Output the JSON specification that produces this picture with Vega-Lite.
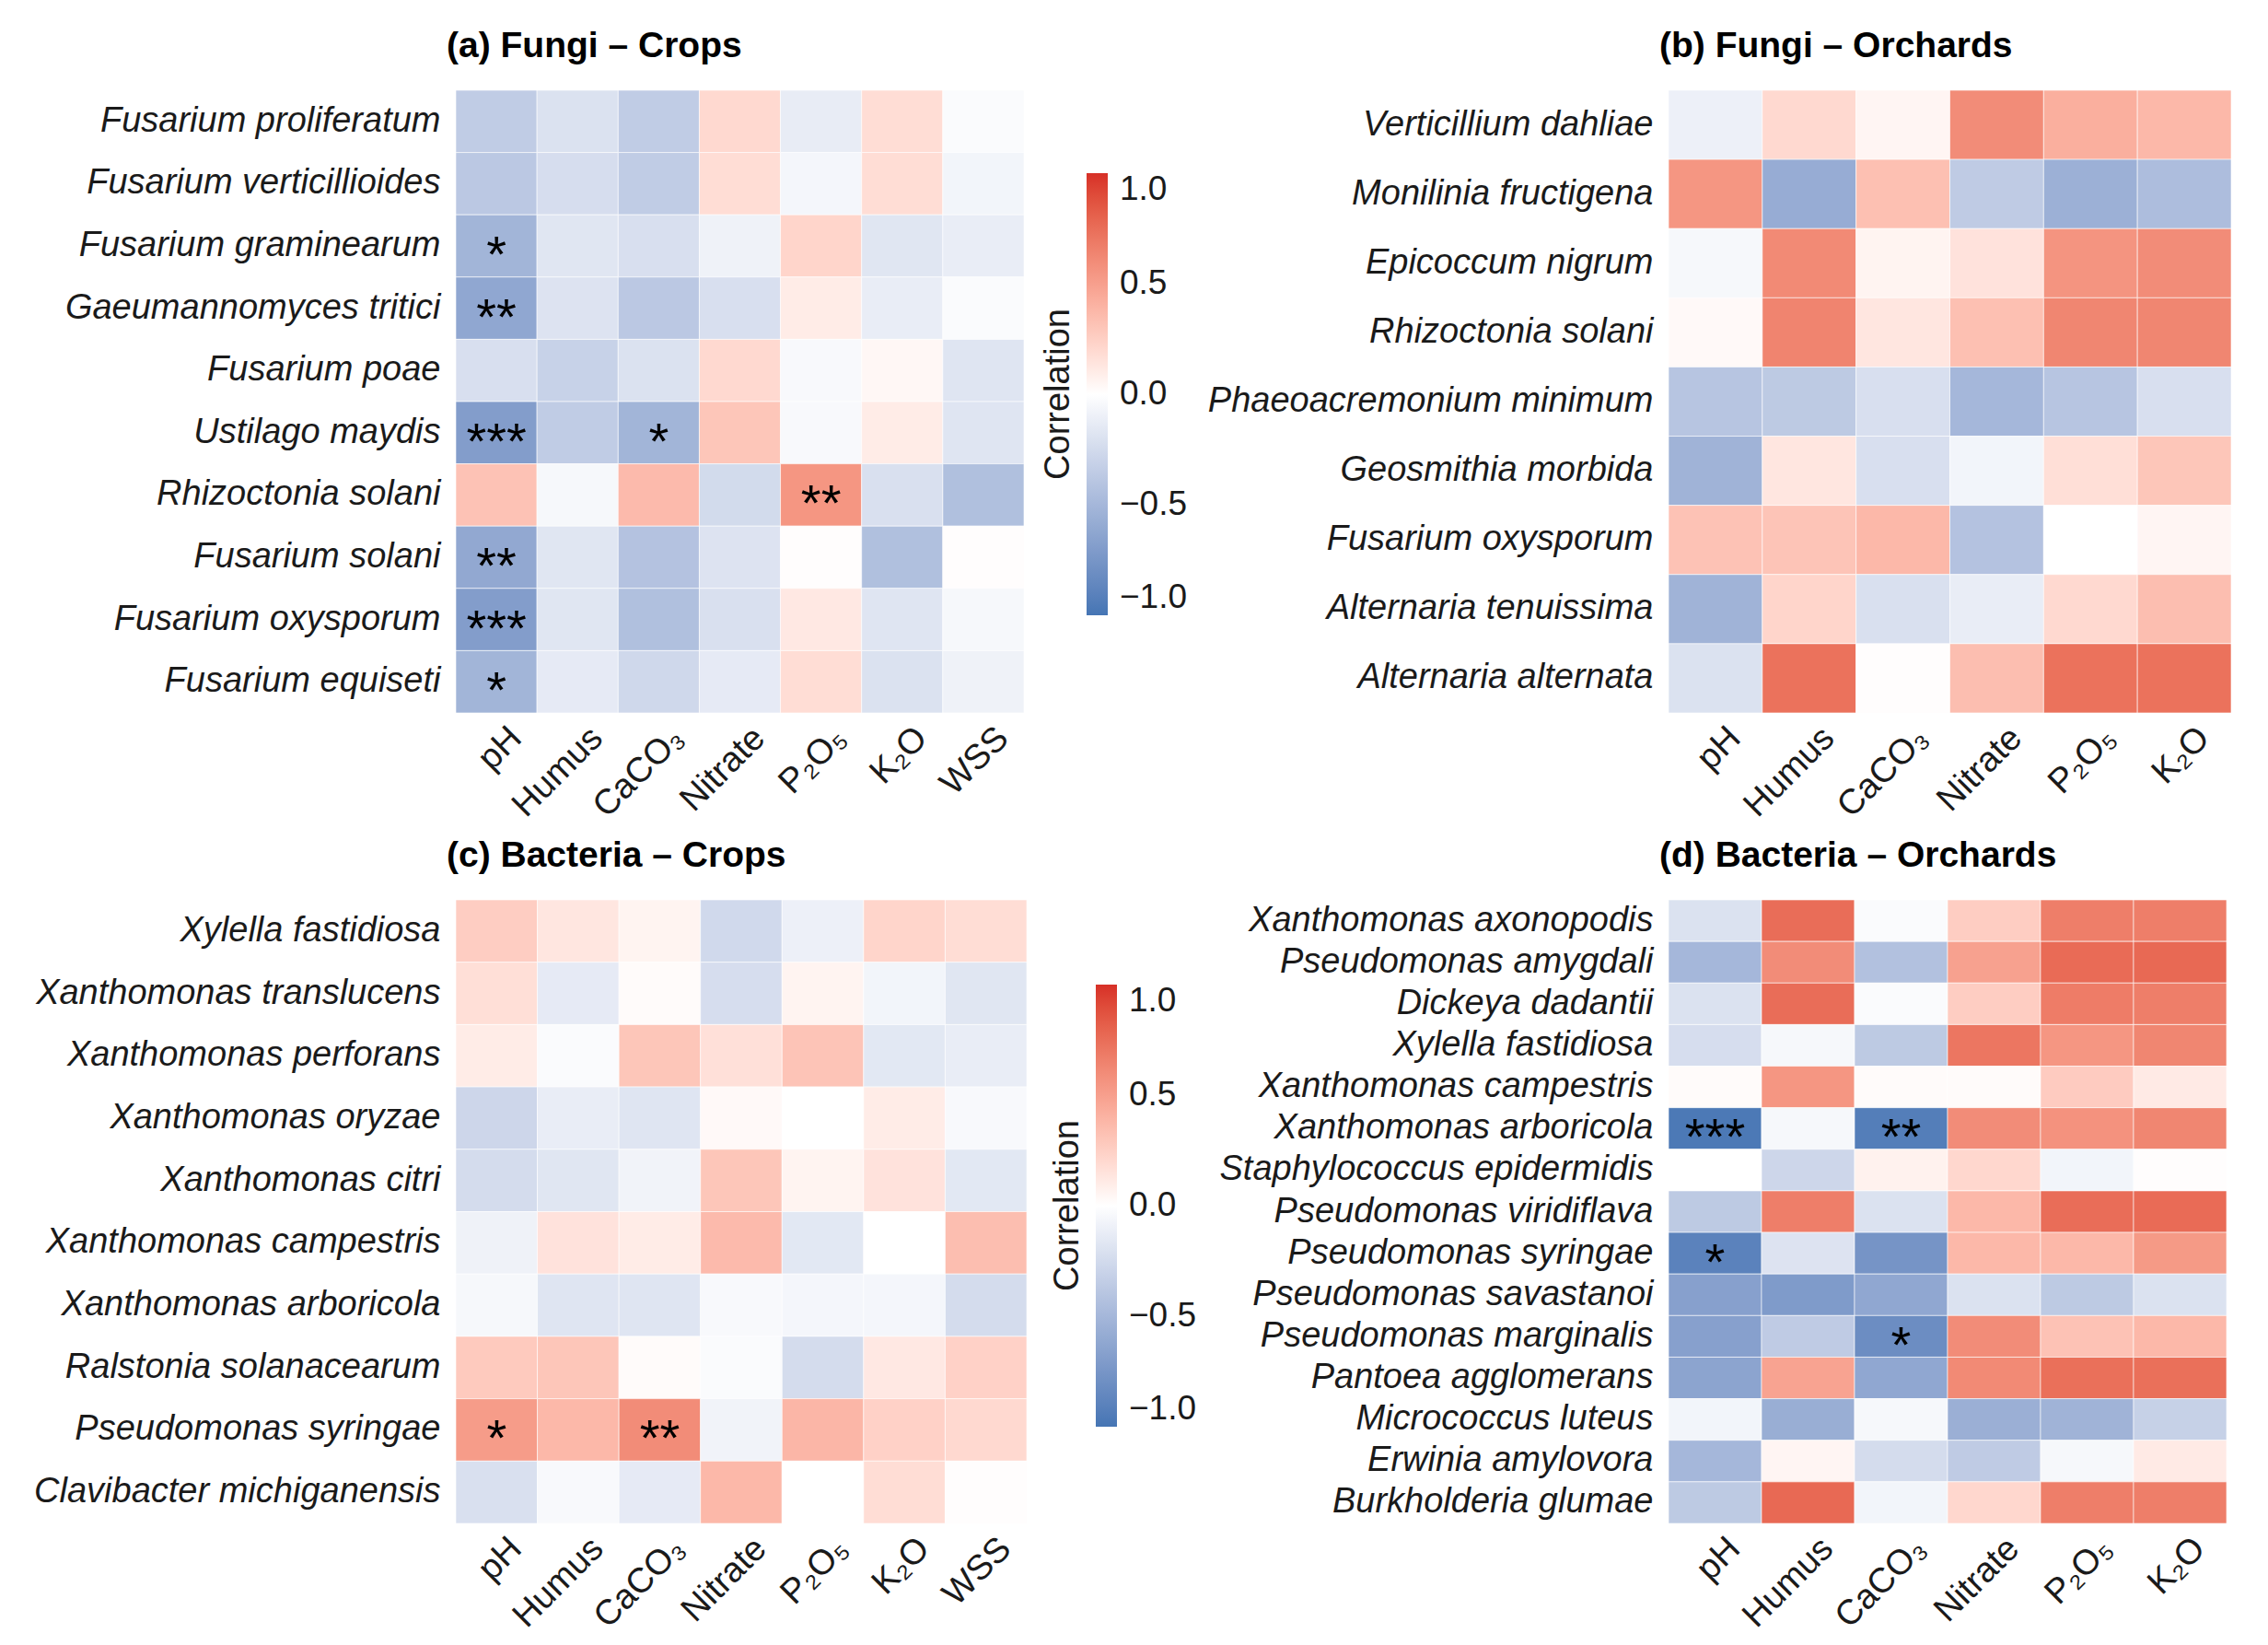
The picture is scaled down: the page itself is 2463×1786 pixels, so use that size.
{
  "$schema": "https://vega.github.io/schema/vega-lite/v6.json",
  "background": "white",
  "padding": {"left": 36, "top": 30, "right": 0, "bottom": 0},
  "config": {
    "font": "Liberation Sans",
    "view": {"stroke": null},
    "axis": {"domain": false, "ticks": false, "grid": false, "labelFontSize": 38, "labelColor": "#1a1a1a", "labelFont": "Liberation Sans"},
    "axisX": {"labelAngle": -45, "labelPadding": 8, "labelOffset": 8},
    "axisY": {"labelFontStyle": "italic", "labelPadding": 17, "labelLimit": 700},
    "title": {"fontSize": 39, "fontWeight": "bold", "anchor": "start", "frame": "group", "color": "#000000", "offset": 28, "dx": -10, "font": "Liberation Sans"},
    "legend": {"titleFontSize": 38, "titleFontWeight": "normal", "labelFontSize": 37, "labelColor": "#1a1a1a", "titleColor": "#1a1a1a", "titleFont": "Liberation Sans", "labelFont": "Liberation Sans", "titleLimit": 600}
  },
  "datasets": {
    "a": [
      {"sp":"Fusarium proliferatum","v":"pH","r":-0.35},{"sp":"Fusarium proliferatum","v":"Humus","r":-0.2},{"sp":"Fusarium proliferatum","v":"CaCO₃","r":-0.35},{"sp":"Fusarium proliferatum","v":"Nitrate","r":0.2},{"sp":"Fusarium proliferatum","v":"P₂O₅","r":-0.13},{"sp":"Fusarium proliferatum","v":"K₂O","r":0.18},{"sp":"Fusarium proliferatum","v":"WSS","r":-0.03},
      {"sp":"Fusarium verticillioides","v":"pH","r":-0.38},{"sp":"Fusarium verticillioides","v":"Humus","r":-0.23},{"sp":"Fusarium verticillioides","v":"CaCO₃","r":-0.35},{"sp":"Fusarium verticillioides","v":"Nitrate","r":0.18},{"sp":"Fusarium verticillioides","v":"P₂O₅","r":-0.06},{"sp":"Fusarium verticillioides","v":"K₂O","r":0.18},{"sp":"Fusarium verticillioides","v":"WSS","r":-0.07},
      {"sp":"Fusarium graminearum","v":"pH","r":-0.52,"s":"*"},{"sp":"Fusarium graminearum","v":"Humus","r":-0.17},{"sp":"Fusarium graminearum","v":"CaCO₃","r":-0.22},{"sp":"Fusarium graminearum","v":"Nitrate","r":-0.09},{"sp":"Fusarium graminearum","v":"P₂O₅","r":0.22},{"sp":"Fusarium graminearum","v":"K₂O","r":-0.17},{"sp":"Fusarium graminearum","v":"WSS","r":-0.12},
      {"sp":"Gaeumannomyces tritici","v":"pH","r":-0.62,"s":"**"},{"sp":"Gaeumannomyces tritici","v":"Humus","r":-0.19},{"sp":"Gaeumannomyces tritici","v":"CaCO₃","r":-0.38},{"sp":"Gaeumannomyces tritici","v":"Nitrate","r":-0.22},{"sp":"Gaeumannomyces tritici","v":"P₂O₅","r":0.1},{"sp":"Gaeumannomyces tritici","v":"K₂O","r":-0.12},{"sp":"Gaeumannomyces tritici","v":"WSS","r":-0.03},
      {"sp":"Fusarium poae","v":"pH","r":-0.22},{"sp":"Fusarium poae","v":"Humus","r":-0.31},{"sp":"Fusarium poae","v":"CaCO₃","r":-0.2},{"sp":"Fusarium poae","v":"Nitrate","r":0.2},{"sp":"Fusarium poae","v":"P₂O₅","r":-0.04},{"sp":"Fusarium poae","v":"K₂O","r":0.04},{"sp":"Fusarium poae","v":"WSS","r":-0.18},
      {"sp":"Ustilago maydis","v":"pH","r":-0.69,"s":"***"},{"sp":"Ustilago maydis","v":"Humus","r":-0.35},{"sp":"Ustilago maydis","v":"CaCO₃","r":-0.52,"s":"*"},{"sp":"Ustilago maydis","v":"Nitrate","r":0.3},{"sp":"Ustilago maydis","v":"P₂O₅","r":-0.04},{"sp":"Ustilago maydis","v":"K₂O","r":0.1},{"sp":"Ustilago maydis","v":"WSS","r":-0.18},
      {"sp":"Rhizoctonia solani","v":"pH","r":0.32},{"sp":"Rhizoctonia solani","v":"Humus","r":-0.05},{"sp":"Rhizoctonia solani","v":"CaCO₃","r":0.36},{"sp":"Rhizoctonia solani","v":"Nitrate","r":-0.25},{"sp":"Rhizoctonia solani","v":"P₂O₅","r":0.55,"s":"**"},{"sp":"Rhizoctonia solani","v":"K₂O","r":-0.21},{"sp":"Rhizoctonia solani","v":"WSS","r":-0.44},
      {"sp":"Fusarium solani","v":"pH","r":-0.61,"s":"**"},{"sp":"Fusarium solani","v":"Humus","r":-0.17},{"sp":"Fusarium solani","v":"CaCO₃","r":-0.42},{"sp":"Fusarium solani","v":"Nitrate","r":-0.19},{"sp":"Fusarium solani","v":"P₂O₅","r":0.01},{"sp":"Fusarium solani","v":"K₂O","r":-0.44},{"sp":"Fusarium solani","v":"WSS","r":0.01},
      {"sp":"Fusarium oxysporum","v":"pH","r":-0.69,"s":"***"},{"sp":"Fusarium oxysporum","v":"Humus","r":-0.17},{"sp":"Fusarium oxysporum","v":"CaCO₃","r":-0.44},{"sp":"Fusarium oxysporum","v":"Nitrate","r":-0.21},{"sp":"Fusarium oxysporum","v":"P₂O₅","r":0.12},{"sp":"Fusarium oxysporum","v":"K₂O","r":-0.18},{"sp":"Fusarium oxysporum","v":"WSS","r":-0.05},
      {"sp":"Fusarium equiseti","v":"pH","r":-0.52,"s":"*"},{"sp":"Fusarium equiseti","v":"Humus","r":-0.14},{"sp":"Fusarium equiseti","v":"CaCO₃","r":-0.27},{"sp":"Fusarium equiseti","v":"Nitrate","r":-0.14},{"sp":"Fusarium equiseti","v":"P₂O₅","r":0.18},{"sp":"Fusarium equiseti","v":"K₂O","r":-0.2},{"sp":"Fusarium equiseti","v":"WSS","r":-0.09}
    ],
    "b": [
      {"sp":"Verticillium dahliae","v":"pH","r":-0.1},{"sp":"Verticillium dahliae","v":"Humus","r":0.2},{"sp":"Verticillium dahliae","v":"CaCO₃","r":0.05},{"sp":"Verticillium dahliae","v":"Nitrate","r":0.6},{"sp":"Verticillium dahliae","v":"P₂O₅","r":0.42},{"sp":"Verticillium dahliae","v":"K₂O","r":0.37},
      {"sp":"Monilinia fructigena","v":"pH","r":0.55},{"sp":"Monilinia fructigena","v":"Humus","r":-0.58},{"sp":"Monilinia fructigena","v":"CaCO₃","r":0.33},{"sp":"Monilinia fructigena","v":"Nitrate","r":-0.36},{"sp":"Monilinia fructigena","v":"P₂O₅","r":-0.55},{"sp":"Monilinia fructigena","v":"K₂O","r":-0.46},
      {"sp":"Epicoccum nigrum","v":"pH","r":-0.05},{"sp":"Epicoccum nigrum","v":"Humus","r":0.61},{"sp":"Epicoccum nigrum","v":"CaCO₃","r":0.06},{"sp":"Epicoccum nigrum","v":"Nitrate","r":0.15},{"sp":"Epicoccum nigrum","v":"P₂O₅","r":0.56},{"sp":"Epicoccum nigrum","v":"K₂O","r":0.6},
      {"sp":"Rhizoctonia solani","v":"pH","r":0.03},{"sp":"Rhizoctonia solani","v":"Humus","r":0.64},{"sp":"Rhizoctonia solani","v":"CaCO₃","r":0.13},{"sp":"Rhizoctonia solani","v":"Nitrate","r":0.33},{"sp":"Rhizoctonia solani","v":"P₂O₅","r":0.63},{"sp":"Rhizoctonia solani","v":"K₂O","r":0.63},
      {"sp":"Phaeoacremonium minimum","v":"pH","r":-0.4},{"sp":"Phaeoacremonium minimum","v":"Humus","r":-0.37},{"sp":"Phaeoacremonium minimum","v":"CaCO₃","r":-0.22},{"sp":"Phaeoacremonium minimum","v":"Nitrate","r":-0.5},{"sp":"Phaeoacremonium minimum","v":"P₂O₅","r":-0.4},{"sp":"Phaeoacremonium minimum","v":"K₂O","r":-0.22},
      {"sp":"Geosmithia morbida","v":"pH","r":-0.53},{"sp":"Geosmithia morbida","v":"Humus","r":0.13},{"sp":"Geosmithia morbida","v":"CaCO₃","r":-0.22},{"sp":"Geosmithia morbida","v":"Nitrate","r":-0.07},{"sp":"Geosmithia morbida","v":"P₂O₅","r":0.17},{"sp":"Geosmithia morbida","v":"K₂O","r":0.3},
      {"sp":"Fusarium oxysporum","v":"pH","r":0.32},{"sp":"Fusarium oxysporum","v":"Humus","r":0.31},{"sp":"Fusarium oxysporum","v":"CaCO₃","r":0.37},{"sp":"Fusarium oxysporum","v":"Nitrate","r":-0.42},{"sp":"Fusarium oxysporum","v":"P₂O₅","r":0},{"sp":"Fusarium oxysporum","v":"K₂O","r":0.05},
      {"sp":"Alternaria tenuissima","v":"pH","r":-0.53},{"sp":"Alternaria tenuissima","v":"Humus","r":0.22},{"sp":"Alternaria tenuissima","v":"CaCO₃","r":-0.21},{"sp":"Alternaria tenuissima","v":"Nitrate","r":-0.12},{"sp":"Alternaria tenuissima","v":"P₂O₅","r":0.2},{"sp":"Alternaria tenuissima","v":"K₂O","r":0.34},
      {"sp":"Alternaria alternata","v":"pH","r":-0.2},{"sp":"Alternaria alternata","v":"Humus","r":0.73},{"sp":"Alternaria alternata","v":"CaCO₃","r":0.01},{"sp":"Alternaria alternata","v":"Nitrate","r":0.34},{"sp":"Alternaria alternata","v":"P₂O₅","r":0.73},{"sp":"Alternaria alternata","v":"K₂O","r":0.73}
    ],
    "c": [
      {"sp":"Xylella fastidiosa","v":"pH","r":0.26},{"sp":"Xylella fastidiosa","v":"Humus","r":0.13},{"sp":"Xylella fastidiosa","v":"CaCO₃","r":0.06},{"sp":"Xylella fastidiosa","v":"Nitrate","r":-0.26},{"sp":"Xylella fastidiosa","v":"P₂O₅","r":-0.1},{"sp":"Xylella fastidiosa","v":"K₂O","r":0.22},{"sp":"Xylella fastidiosa","v":"WSS","r":0.18},
      {"sp":"Xanthomonas translucens","v":"pH","r":0.17},{"sp":"Xanthomonas translucens","v":"Humus","r":-0.14},{"sp":"Xanthomonas translucens","v":"CaCO₃","r":0.02},{"sp":"Xanthomonas translucens","v":"Nitrate","r":-0.23},{"sp":"Xanthomonas translucens","v":"P₂O₅","r":0.06},{"sp":"Xanthomonas translucens","v":"K₂O","r":-0.07},{"sp":"Xanthomonas translucens","v":"WSS","r":-0.17},
      {"sp":"Xanthomonas perforans","v":"pH","r":0.1},{"sp":"Xanthomonas perforans","v":"Humus","r":-0.03},{"sp":"Xanthomonas perforans","v":"CaCO₃","r":0.3},{"sp":"Xanthomonas perforans","v":"Nitrate","r":0.16},{"sp":"Xanthomonas perforans","v":"P₂O₅","r":0.31},{"sp":"Xanthomonas perforans","v":"K₂O","r":-0.16},{"sp":"Xanthomonas perforans","v":"WSS","r":-0.12},
      {"sp":"Xanthomonas oryzae","v":"pH","r":-0.28},{"sp":"Xanthomonas oryzae","v":"Humus","r":-0.12},{"sp":"Xanthomonas oryzae","v":"CaCO₃","r":-0.18},{"sp":"Xanthomonas oryzae","v":"Nitrate","r":0.03},{"sp":"Xanthomonas oryzae","v":"P₂O₅","r":0},{"sp":"Xanthomonas oryzae","v":"K₂O","r":0.1},{"sp":"Xanthomonas oryzae","v":"WSS","r":-0.04},
      {"sp":"Xanthomonas citri","v":"pH","r":-0.24},{"sp":"Xanthomonas citri","v":"Humus","r":-0.17},{"sp":"Xanthomonas citri","v":"CaCO₃","r":-0.08},{"sp":"Xanthomonas citri","v":"Nitrate","r":0.3},{"sp":"Xanthomonas citri","v":"P₂O₅","r":0.06},{"sp":"Xanthomonas citri","v":"K₂O","r":0.15},{"sp":"Xanthomonas citri","v":"WSS","r":-0.16},
      {"sp":"Xanthomonas campestris","v":"pH","r":-0.09},{"sp":"Xanthomonas campestris","v":"Humus","r":0.15},{"sp":"Xanthomonas campestris","v":"CaCO₃","r":0.1},{"sp":"Xanthomonas campestris","v":"Nitrate","r":0.36},{"sp":"Xanthomonas campestris","v":"P₂O₅","r":-0.16},{"sp":"Xanthomonas campestris","v":"K₂O","r":0},{"sp":"Xanthomonas campestris","v":"WSS","r":0.34},
      {"sp":"Xanthomonas arboricola","v":"pH","r":-0.05},{"sp":"Xanthomonas arboricola","v":"Humus","r":-0.18},{"sp":"Xanthomonas arboricola","v":"CaCO₃","r":-0.18},{"sp":"Xanthomonas arboricola","v":"Nitrate","r":-0.04},{"sp":"Xanthomonas arboricola","v":"P₂O₅","r":-0.06},{"sp":"Xanthomonas arboricola","v":"K₂O","r":-0.06},{"sp":"Xanthomonas arboricola","v":"WSS","r":-0.24},
      {"sp":"Ralstonia solanacearum","v":"pH","r":0.28},{"sp":"Ralstonia solanacearum","v":"Humus","r":0.3},{"sp":"Ralstonia solanacearum","v":"CaCO₃","r":0.02},{"sp":"Ralstonia solanacearum","v":"Nitrate","r":-0.03},{"sp":"Ralstonia solanacearum","v":"P₂O₅","r":-0.24},{"sp":"Ralstonia solanacearum","v":"K₂O","r":0.12},{"sp":"Ralstonia solanacearum","v":"WSS","r":0.24},
      {"sp":"Pseudomonas syringae","v":"pH","r":0.52,"s":"*"},{"sp":"Pseudomonas syringae","v":"Humus","r":0.37},{"sp":"Pseudomonas syringae","v":"CaCO₃","r":0.6,"s":"**"},{"sp":"Pseudomonas syringae","v":"Nitrate","r":-0.08},{"sp":"Pseudomonas syringae","v":"P₂O₅","r":0.38},{"sp":"Pseudomonas syringae","v":"K₂O","r":0.24},{"sp":"Pseudomonas syringae","v":"WSS","r":0.2},
      {"sp":"Clavibacter michiganensis","v":"pH","r":-0.21},{"sp":"Clavibacter michiganensis","v":"Humus","r":-0.04},{"sp":"Clavibacter michiganensis","v":"CaCO₃","r":-0.14},{"sp":"Clavibacter michiganensis","v":"Nitrate","r":0.37},{"sp":"Clavibacter michiganensis","v":"P₂O₅","r":0},{"sp":"Clavibacter michiganensis","v":"K₂O","r":0.18},{"sp":"Clavibacter michiganensis","v":"WSS","r":0.01}
    ],
    "d": [
      {"sp":"Xanthomonas axonopodis","v":"pH","r":-0.2},{"sp":"Xanthomonas axonopodis","v":"Humus","r":0.75},{"sp":"Xanthomonas axonopodis","v":"CaCO₃","r":-0.03},{"sp":"Xanthomonas axonopodis","v":"Nitrate","r":0.26},{"sp":"Xanthomonas axonopodis","v":"P₂O₅","r":0.67},{"sp":"Xanthomonas axonopodis","v":"K₂O","r":0.67},
      {"sp":"Pseudomonas amygdali","v":"pH","r":-0.5},{"sp":"Pseudomonas amygdali","v":"Humus","r":0.6},{"sp":"Pseudomonas amygdali","v":"CaCO₃","r":-0.43},{"sp":"Pseudomonas amygdali","v":"Nitrate","r":0.49},{"sp":"Pseudomonas amygdali","v":"P₂O₅","r":0.76},{"sp":"Pseudomonas amygdali","v":"K₂O","r":0.77},
      {"sp":"Dickeya dadantii","v":"pH","r":-0.2},{"sp":"Dickeya dadantii","v":"Humus","r":0.75},{"sp":"Dickeya dadantii","v":"CaCO₃","r":-0.03},{"sp":"Dickeya dadantii","v":"Nitrate","r":0.26},{"sp":"Dickeya dadantii","v":"P₂O₅","r":0.68},{"sp":"Dickeya dadantii","v":"K₂O","r":0.67},
      {"sp":"Xylella fastidiosa","v":"pH","r":-0.23},{"sp":"Xylella fastidiosa","v":"Humus","r":-0.05},{"sp":"Xylella fastidiosa","v":"CaCO₃","r":-0.37},{"sp":"Xylella fastidiosa","v":"Nitrate","r":0.71},{"sp":"Xylella fastidiosa","v":"P₂O₅","r":0.55},{"sp":"Xylella fastidiosa","v":"K₂O","r":0.63},
      {"sp":"Xanthomonas campestris","v":"pH","r":0.02},{"sp":"Xanthomonas campestris","v":"Humus","r":0.55},{"sp":"Xanthomonas campestris","v":"CaCO₃","r":0.02},{"sp":"Xanthomonas campestris","v":"Nitrate","r":0.02},{"sp":"Xanthomonas campestris","v":"P₂O₅","r":0.27},{"sp":"Xanthomonas campestris","v":"K₂O","r":0.11},
      {"sp":"Xanthomonas arboricola","v":"pH","r":-0.97,"s":"***"},{"sp":"Xanthomonas arboricola","v":"Humus","r":-0.05},{"sp":"Xanthomonas arboricola","v":"CaCO₃","r":-0.93,"s":"**"},{"sp":"Xanthomonas arboricola","v":"Nitrate","r":0.6},{"sp":"Xanthomonas arboricola","v":"P₂O₅","r":0.57},{"sp":"Xanthomonas arboricola","v":"K₂O","r":0.63},
      {"sp":"Staphylococcus epidermidis","v":"pH","r":0},{"sp":"Staphylococcus epidermidis","v":"Humus","r":-0.28},{"sp":"Staphylococcus epidermidis","v":"CaCO₃","r":0.07},{"sp":"Staphylococcus epidermidis","v":"Nitrate","r":0.21},{"sp":"Staphylococcus epidermidis","v":"P₂O₅","r":-0.07},{"sp":"Staphylococcus epidermidis","v":"K₂O","r":0.01},
      {"sp":"Pseudomonas viridiflava","v":"pH","r":-0.37},{"sp":"Pseudomonas viridiflava","v":"Humus","r":0.67},{"sp":"Pseudomonas viridiflava","v":"CaCO₃","r":-0.2},{"sp":"Pseudomonas viridiflava","v":"Nitrate","r":0.37},{"sp":"Pseudomonas viridiflava","v":"P₂O₅","r":0.75},{"sp":"Pseudomonas viridiflava","v":"K₂O","r":0.76},
      {"sp":"Pseudomonas syringae","v":"pH","r":-0.9,"s":"*"},{"sp":"Pseudomonas syringae","v":"Humus","r":-0.19},{"sp":"Pseudomonas syringae","v":"CaCO₃","r":-0.76},{"sp":"Pseudomonas syringae","v":"Nitrate","r":0.37},{"sp":"Pseudomonas syringae","v":"P₂O₅","r":0.37},{"sp":"Pseudomonas syringae","v":"K₂O","r":0.53},
      {"sp":"Pseudomonas savastanoi","v":"pH","r":-0.67},{"sp":"Pseudomonas savastanoi","v":"Humus","r":-0.71},{"sp":"Pseudomonas savastanoi","v":"CaCO₃","r":-0.62},{"sp":"Pseudomonas savastanoi","v":"Nitrate","r":-0.2},{"sp":"Pseudomonas savastanoi","v":"P₂O₅","r":-0.37},{"sp":"Pseudomonas savastanoi","v":"K₂O","r":-0.2},
      {"sp":"Pseudomonas marginalis","v":"pH","r":-0.67},{"sp":"Pseudomonas marginalis","v":"Humus","r":-0.36},{"sp":"Pseudomonas marginalis","v":"CaCO₃","r":-0.81,"s":"*"},{"sp":"Pseudomonas marginalis","v":"Nitrate","r":0.6},{"sp":"Pseudomonas marginalis","v":"P₂O₅","r":0.32},{"sp":"Pseudomonas marginalis","v":"K₂O","r":0.37},
      {"sp":"Pantoea agglomerans","v":"pH","r":-0.64},{"sp":"Pantoea agglomerans","v":"Humus","r":0.48},{"sp":"Pantoea agglomerans","v":"CaCO₃","r":-0.62},{"sp":"Pantoea agglomerans","v":"Nitrate","r":0.61},{"sp":"Pantoea agglomerans","v":"P₂O₅","r":0.74},{"sp":"Pantoea agglomerans","v":"K₂O","r":0.74},
      {"sp":"Micrococcus luteus","v":"pH","r":-0.07},{"sp":"Micrococcus luteus","v":"Humus","r":-0.57},{"sp":"Micrococcus luteus","v":"CaCO₃","r":-0.05},{"sp":"Micrococcus luteus","v":"Nitrate","r":-0.56},{"sp":"Micrococcus luteus","v":"P₂O₅","r":-0.53},{"sp":"Micrococcus luteus","v":"K₂O","r":-0.32},
      {"sp":"Erwinia amylovora","v":"pH","r":-0.5},{"sp":"Erwinia amylovora","v":"Humus","r":0.05},{"sp":"Erwinia amylovora","v":"CaCO₃","r":-0.24},{"sp":"Erwinia amylovora","v":"Nitrate","r":-0.36},{"sp":"Erwinia amylovora","v":"P₂O₅","r":-0.05},{"sp":"Erwinia amylovora","v":"K₂O","r":0.11},
      {"sp":"Burkholderia glumae","v":"pH","r":-0.37},{"sp":"Burkholderia glumae","v":"Humus","r":0.77},{"sp":"Burkholderia glumae","v":"CaCO₃","r":-0.07},{"sp":"Burkholderia glumae","v":"Nitrate","r":0.21},{"sp":"Burkholderia glumae","v":"P₂O₅","r":0.67},{"sp":"Burkholderia glumae","v":"K₂O","r":0.67}
    ]
  },
  "bounds": "flush",
  "columns": 2,
  "spacing": {"row": 203, "column": 697},
  "resolve": {"scale": {"color": "independent"}, "legend": {"color": "independent"}},
  "concat": [
    {
      "width": 617, "height": 676,
      "title": {"text": "(a) Fungi – Crops"},
      "data": {"name": "a"},
      "encoding": {
        "x": {"field": "v", "type": "nominal", "sort": ["pH","Humus","CaCO₃","Nitrate","P₂O₅","K₂O","WSS"], "title": null, "scale": {"paddingInner": 0, "paddingOuter": 0}},
        "y": {"field": "sp", "type": "nominal", "sort": null, "title": null, "scale": {"paddingInner": 0, "paddingOuter": 0}}
      },
      "layer": [
        {"mark": {"type": "rect", "stroke": "white", "strokeWidth": 1, "strokeOpacity": 0.6},
         "encoding": {"color": {"field": "r", "type": "quantitative", "scale": {"domain": [-1, 0, 1], "range": ["#4575b4", "#ffffff", "#d73027"], "interpolate": "lab"},
           "legend": {"title": "Correlation", "orient": "none", "legendX": 636, "legendY": 90, "direction": "vertical", "gradientLength": 480, "gradientThickness": 23, "titleOrient": "left", "titleAnchor": "middle", "titlePadding": 10, "values": [-1, -0.5, 0, 0.5, 1], "format": ".1f", "labelOffset": 13, "padding": 0}}}},
        {"transform": [{"filter": "isValid(datum.s)"}], "mark": {"type": "text", "fontSize": 56, "dy": 11, "color": "#000000"}, "encoding": {"text": {"field": "s"}}}
      ]
    },
    {
      "width": 611, "height": 676,
      "title": {"text": "(b) Fungi – Orchards"},
      "data": {"name": "b"},
      "encoding": {
        "x": {"field": "v", "type": "nominal", "sort": ["pH","Humus","CaCO₃","Nitrate","P₂O₅","K₂O"], "title": null, "scale": {"paddingInner": 0, "paddingOuter": 0}},
        "y": {"field": "sp", "type": "nominal", "sort": null, "title": null, "scale": {"paddingInner": 0, "paddingOuter": 0}}
      },
      "layer": [
        {"mark": {"type": "rect", "stroke": "white", "strokeWidth": 1, "strokeOpacity": 0.6},
         "encoding": {"color": {"field": "r", "type": "quantitative", "scale": {"domain": [-1, 0, 1], "range": ["#4575b4", "#ffffff", "#d73027"], "interpolate": "lab"}, "legend": null}}}
      ]
    },
    {
      "width": 620, "height": 677,
      "title": {"text": "(c) Bacteria – Crops"},
      "data": {"name": "c"},
      "encoding": {
        "x": {"field": "v", "type": "nominal", "sort": ["pH","Humus","CaCO₃","Nitrate","P₂O₅","K₂O","WSS"], "title": null, "scale": {"paddingInner": 0, "paddingOuter": 0}},
        "y": {"field": "sp", "type": "nominal", "sort": null, "title": null, "scale": {"paddingInner": 0, "paddingOuter": 0}}
      },
      "layer": [
        {"mark": {"type": "rect", "stroke": "white", "strokeWidth": 1, "strokeOpacity": 0.6},
         "encoding": {"color": {"field": "r", "type": "quantitative", "scale": {"domain": [-1, 0, 1], "range": ["#4575b4", "#ffffff", "#d73027"], "interpolate": "lab"},
           "legend": {"title": "Correlation", "orient": "none", "legendX": 646, "legendY": 92, "direction": "vertical", "gradientLength": 480, "gradientThickness": 23, "titleOrient": "left", "titleAnchor": "middle", "titlePadding": 10, "values": [-1, -0.5, 0, 0.5, 1], "format": ".1f", "labelOffset": 13, "padding": 0}}}},
        {"transform": [{"filter": "isValid(datum.s)"}], "mark": {"type": "text", "fontSize": 56, "dy": 11, "color": "#000000"}, "encoding": {"text": {"field": "s"}}}
      ]
    },
    {
      "width": 606, "height": 677,
      "title": {"text": "(d) Bacteria – Orchards"},
      "data": {"name": "d"},
      "encoding": {
        "x": {"field": "v", "type": "nominal", "sort": ["pH","Humus","CaCO₃","Nitrate","P₂O₅","K₂O"], "title": null, "scale": {"paddingInner": 0, "paddingOuter": 0}},
        "y": {"field": "sp", "type": "nominal", "sort": null, "title": null, "scale": {"paddingInner": 0, "paddingOuter": 0}}
      },
      "layer": [
        {"mark": {"type": "rect", "stroke": "white", "strokeWidth": 1, "strokeOpacity": 0.6},
         "encoding": {"color": {"field": "r", "type": "quantitative", "scale": {"domain": [-1, 0, 1], "range": ["#4575b4", "#ffffff", "#d73027"], "interpolate": "lab"}, "legend": null}}},
        {"transform": [{"filter": "isValid(datum.s)"}], "mark": {"type": "text", "fontSize": 56, "dy": 11, "color": "#000000"}, "encoding": {"text": {"field": "s"}}}
      ]
    }
  ]
}
